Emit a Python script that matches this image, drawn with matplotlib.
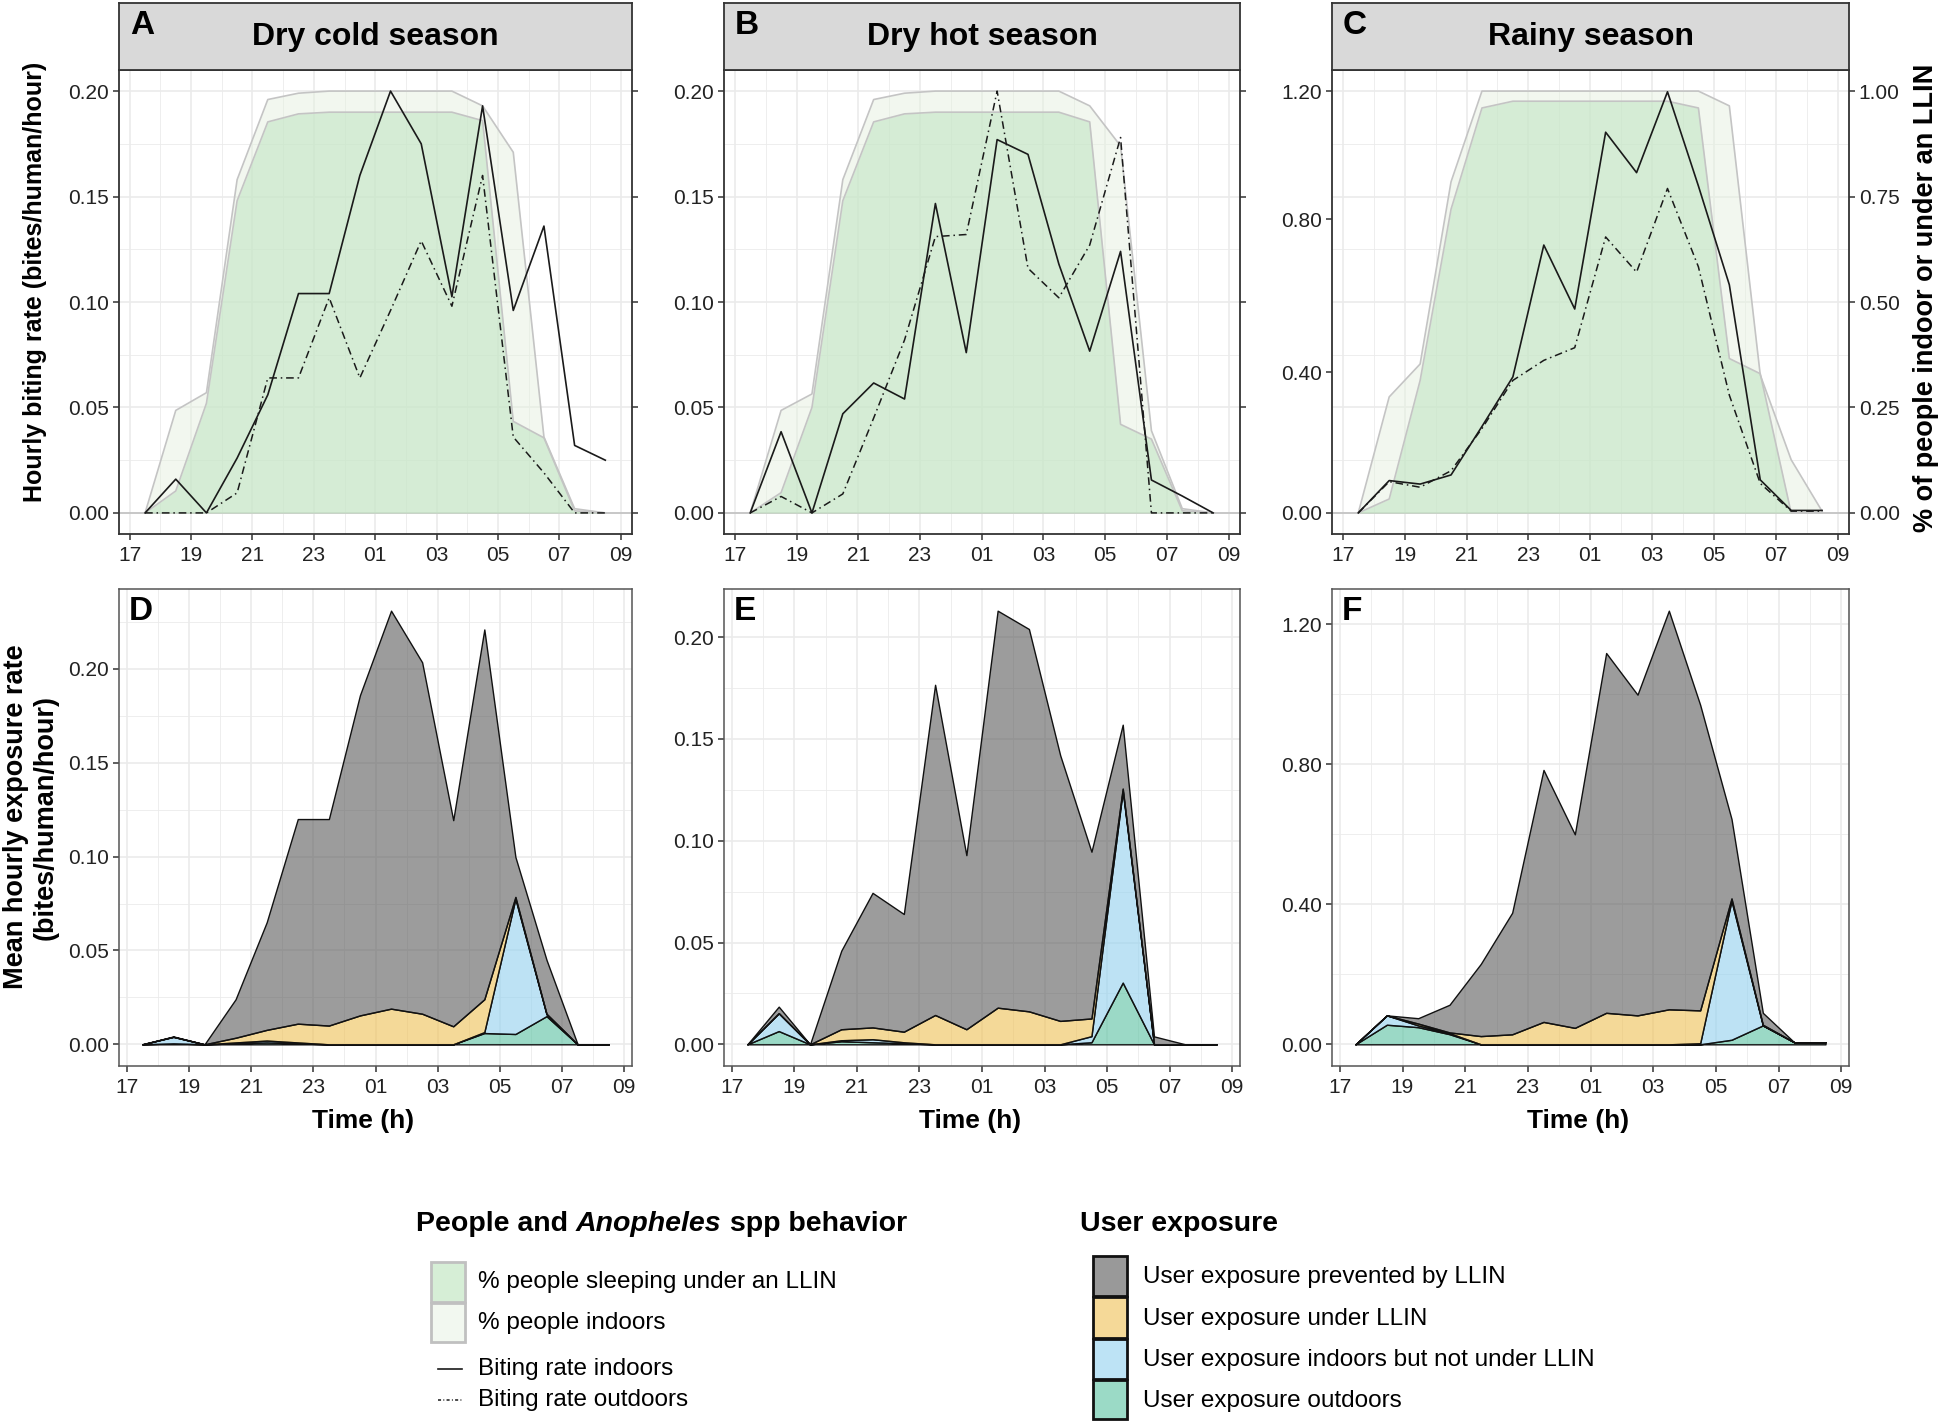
import matplotlib
matplotlib.use('Agg')
import matplotlib.pyplot as plt
from matplotlib.patches import Rectangle
from matplotlib.lines import Line2D
from matplotlib.ticker import FixedLocator

plt.rcParams['font.family'] = ['Liberation Sans', 'DejaVu Sans']

# half-hour midpoints 17:30 ... 08:30 (hours past midnight continue as 25, 26, ...)
hours = [17.5, 18.5, 19.5, 20.5, 21.5, 22.5, 23.5, 24.5, 25.5, 26.5, 27.5, 28.5, 29.5, 30.5, 31.5, 32.5]
tick_hours = [17, 19, 21, 23, 25, 27, 29, 31, 33]
tick_labels = ['17', '19', '21', '23', '01', '03', '05', '07', '09']
minor_hours = [18, 20, 22, 24, 26, 28, 30, 32]

seasons = ['Dry cold season', 'Dry hot season', 'Rainy season']
top_letters = ['A', 'B', 'C']
bottom_letters = ['D', 'E', 'F']

# hourly biting rate (bites/human/hour)
bite_in_cold = [0, 0.016, 0, 0.026, 0.056, 0.104, 0.104, 0.16, 0.2, 0.175, 0.1025, 0.193, 0.096, 0.136, 0.032, 0.025]
bite_out_cold = [0, 0, 0, 0.0095, 0.064, 0.064, 0.102, 0.064, 0.096, 0.129, 0.098, 0.16, 0.036, 0.019, 0, 0]
bite_in_hot = [0, 0.0385, 0, 0.047, 0.0616, 0.054, 0.1467, 0.076, 0.177, 0.170, 0.118, 0.0767, 0.124, 0.0156, 0.008, 0]
bite_out_hot = [0, 0.0078, 0, 0.009, 0.045, 0.082, 0.131, 0.132, 0.2, 0.116, 0.102, 0.127, 0.178, 0, 0, 0]
bite_in_rainy = [0, 0.092, 0.082, 0.108, 0.246, 0.387, 0.762, 0.58, 1.083, 0.968, 1.198, 0.93, 0.649, 0.094, 0.007, 0.007]
bite_out_rainy = [0, 0.089, 0.073, 0.12, 0.24, 0.377, 0.434, 0.47, 0.785, 0.685, 0.923, 0.70, 0.335, 0.084, 0.005, 0.005]

# share of people under an LLIN / indoors (0-1)
llin_cold = [0, 0.052, 0.26, 0.74, 0.927, 0.946, 0.95, 0.95, 0.95, 0.95, 0.95, 0.93, 0.217, 0.178, 0.005, 0]
indoor_cold = [0, 0.243, 0.285, 0.79, 0.98, 0.995, 1, 1, 1, 1, 1, 0.965, 0.855, 0.18, 0.01, 0]
llin_hot = [0, 0.048, 0.25, 0.74, 0.927, 0.946, 0.95, 0.95, 0.95, 0.95, 0.95, 0.927, 0.21, 0.175, 0.005, 0]
indoor_hot = [0, 0.243, 0.282, 0.79, 0.98, 0.995, 1, 1, 1, 1, 1, 0.965, 0.87, 0.195, 0.01, 0]
llin_rainy = [0, 0.033, 0.314, 0.72, 0.96, 0.976, 0.976, 0.976, 0.976, 0.976, 0.976, 0.96, 0.366, 0.33, 0, 0]
indoor_rainy = [0, 0.275, 0.353, 0.785, 1, 1, 1, 1, 1, 1, 1, 1, 0.965, 0.327, 0.126, 0.004]

# user exposure components (bites/human/hour)
exp_out_cold = [0, 0.0005, 0, 0.0005, 0.001, 0.0005, 0, 0, 0, 0, 0, 0.006, 0.0055, 0.015, 0, 0]
exp_in_cold = [0, 0.0035, 0, 0.0005, 0.001, 0.0005, 0, 0, 0, 0, 0, 0.0005, 0.072, 0.001, 0, 0]
exp_llin_cold = [0, 0, 0, 0.0025, 0.0057, 0.01, 0.01, 0.0154, 0.019, 0.0163, 0.0096, 0.0175, 0.001, 0.0003, 0, 0]
exp_prev_cold = [0, 0.0002, 0, 0.0205, 0.0573, 0.109, 0.11, 0.1706, 0.212, 0.1872, 0.1098, 0.197, 0.0213, 0.0287, 0, 0]

exp_out_hot = [0, 0.0065, 0, 0.0015, 0.001, 0.0005, 0, 0, 0, 0, 0, 0.001, 0.0303, 0, 0, 0]
exp_in_hot = [0, 0.0088, 0, 0.0005, 0.0015, 0.0005, 0, 0, 0, 0, 0, 0.003, 0.0943, 0, 0, 0]
exp_llin_hot = [0, 0, 0, 0.0054, 0.0058, 0.0052, 0.0144, 0.0074, 0.018, 0.0162, 0.0115, 0.0087, 0.001, 0, 0, 0]
exp_prev_hot = [0, 0.0032, 0, 0.0386, 0.0661, 0.0578, 0.1622, 0.0855, 0.195, 0.1878, 0.1305, 0.0819, 0.0314, 0.0039, 0, 0]

exp_out_rainy = [0, 0.056, 0.049, 0.029, 0, 0, 0, 0, 0, 0, 0, 0, 0.013, 0.054, 0.006, 0.006]
exp_in_rainy = [0, 0.0267, 0.005, 0.003, 0, 0, 0, 0, 0, 0, 0, 0.003, 0.397, 0, 0, 0]
exp_llin_rainy = [0, 0, 0.0053, 0.002, 0.0235, 0.0286, 0.064, 0.047, 0.09, 0.0827, 0.1, 0.094, 0.0067, 0.002, 0, 0]
exp_prev_rainy = [0, 0, 0.0153, 0.079, 0.2065, 0.3474, 0.72, 0.553, 1.028, 0.9163, 1.139, 0.873, 0.2273, 0.034, 0, 0]

bite_in = [bite_in_cold, bite_in_hot, bite_in_rainy]
bite_out = [bite_out_cold, bite_out_hot, bite_out_rainy]
llin = [llin_cold, llin_hot, llin_rainy]
indoor = [indoor_cold, indoor_hot, indoor_rainy]
exposure = [
    [exp_out_cold, exp_in_cold, exp_llin_cold, exp_prev_cold],
    [exp_out_hot, exp_in_hot, exp_llin_hot, exp_prev_hot],
    [exp_out_rainy, exp_in_rainy, exp_llin_rainy, exp_prev_rainy],
]

# axis settings per season
top_max = [0.2, 0.2, 1.2]          # left axis max = 100 % on the right axis
top_ticks = [[0, 0.05, 0.10, 0.15, 0.20], [0, 0.05, 0.10, 0.15, 0.20], [0, 0.40, 0.835, 1.20]]
top_ticklabels = [['0.00', '0.05', '0.10', '0.15', '0.20']] * 2 + [['0.00', '0.40', '0.80', '1.20']]
bot_ticks = [[0, 0.05, 0.10, 0.15, 0.20], [0, 0.05, 0.10, 0.15, 0.20], [0, 0.4, 0.8, 1.2]]
bot_ticklabels = [['0.00', '0.05', '0.10', '0.15', '0.20']] * 2 + [['0.00', '0.40', '0.80', '1.20']]
bot_minor = [[0.025, 0.075, 0.125, 0.175, 0.225], [0.025, 0.075, 0.125, 0.175], [0.2, 0.6, 1.0]]

c_llin = (0.73, 0.89, 0.74, 0.5)
c_indoor = (0.90, 0.945, 0.88, 0.5)
c_ribbon_edge = '#c4c4c4'
exp_colors = [(0.345, 0.757, 0.627, 0.6), (0.569, 0.816, 0.933, 0.6),
              (0.933, 0.753, 0.325, 0.6), (0.353, 0.353, 0.353, 0.6)]
exp_legend_colors = ['#999999', '#f5d998', '#bde3f5', '#9bdac6']
exp_labels = ['User exposure prevented by LLIN', 'User exposure under LLIN',
              'User exposure indoors but not under LLIN', 'User exposure outdoors']
grid_col = '#ebebeb'

W, H = 1946, 1421
fig = plt.figure(figsize=(W / 100, H / 100), dpi=100)

col_x = [(119, 632), (724, 1240), (1332, 1849)]
top_y = (70, 534)
strip_y = (3, 70)
bot_y = (589, 1066)


def rect(x0, x1, y0, y1):
    return [x0 / W, 1 - y1 / H, (x1 - x0) / W, (y1 - y0) / H]


def style_axis(ax, border='#333333', blw=1.3):
    for s in ax.spines.values():
        s.set_color(border)
        s.set_linewidth(blw)
    ax.tick_params(direction='out', length=4, width=1.1, color='#333333',
                   labelsize=15, labelcolor='#222222', pad=3)
    ax.tick_params(axis='x', pad=4.5)
    ax.tick_params(which='minor', length=0)
    ax.set_xticks(tick_hours)
    ax.set_xticklabels(tick_labels)
    ax.xaxis.set_minor_locator(FixedLocator(minor_hours))
    ax.grid(axis='x', which='major', color=grid_col, lw=1.2)
    ax.grid(axis='x', which='minor', color=grid_col, lw=0.6)
    ax.set_axisbelow(True)


for k in range(3):
    x0, x1 = col_x[k]
    # ---- top panel: behaviour and biting rates
    ax = fig.add_axes(rect(x0, x1, *top_y))
    m = top_max[k]
    ax.set_xlim(16.65, 33.37)
    ax.set_ylim(-0.05 * m, 1.05 * m)
    style_axis(ax)
    for j in range(9):
        share = j * 0.125
        ax.axhline(share * m, color=grid_col, lw=1.2 if j % 2 == 0 else 0.6, zorder=0.5)
    ax.axhline(0, color=c_ribbon_edge, lw=1.3, zorder=1)
    ind = [v * m for v in indoor[k]]
    ll = [v * m for v in llin[k]]
    ax.fill_between(hours, 0, ind, color=c_indoor, lw=0, zorder=1)
    ax.plot(hours, ind, color=c_ribbon_edge, lw=1.2, zorder=1.5)
    ax.fill_between(hours, 0, ll, color=c_llin, lw=0, zorder=2)
    ax.plot(hours, ll, color=c_ribbon_edge, lw=1.2, zorder=2.5)
    ax.plot(hours, bite_in[k], color='#1a1a1a', lw=1.2, zorder=3)
    ax.plot(hours, bite_out[k], color='#1a1a1a', lw=1.1, ls=(0, (5, 2.5, 1, 2.5)), zorder=3)
    ax.set_yticks(top_ticks[k])
    ax.set_yticklabels(top_ticklabels[k])

    ax2 = ax.twinx()
    ax2.set_ylim(-0.05, 1.05)
    ax2.set_yticks([0, 0.25, 0.5, 0.75, 1.0])
    ax2.set_yticklabels(['0.00', '0.25', '0.50', '0.75', '1.00'])
    for s in ax2.spines.values():
        s.set_visible(False)
    ax2.tick_params(direction='out', length=4, width=1.1, color='#333333',
                    labelsize=15, labelcolor='#222222', pad=3, labelright=(k == 2))

    # strip
    sax = fig.add_axes(rect(x0, x1, *strip_y))
    sax.set_facecolor('#d9d9d9')
    sax.set_xticks([])
    sax.set_yticks([])
    for s in sax.spines.values():
        s.set_color('#333333')
        s.set_linewidth(1.3)

    # ---- bottom panel: stacked exposure
    bx = fig.add_axes(rect(x0, x1, *bot_y))
    total = [sum(v) for v in zip(*exposure[k])]
    bm = max(total)
    bx.set_xlim(16.75, 33.25)
    bx.set_ylim(-0.05 * bm, 1.05 * bm)
    style_axis(bx, border='#555555', blw=1.1)
    bx.set_yticks(bot_ticks[k])
    bx.set_yticklabels(bot_ticklabels[k])
    bx.yaxis.set_minor_locator(FixedLocator(bot_minor[k]))
    bx.grid(axis='y', which='major', color=grid_col, lw=1.2)
    bx.grid(axis='y', which='minor', color=grid_col, lw=0.6)
    bx.stackplot(hours, *exposure[k], colors=exp_colors, edgecolor='#111111', linewidth=1.0, zorder=2)

# ---- overlay for labels and legends, in pixel coordinates
lax = fig.add_axes([0, 0, 1, 1])
lax.set_xlim(0, W)
lax.set_ylim(H, 0)
lax.axis('off')

for k in range(3):
    x0, x1 = col_x[k]
    lax.text((x0 + x1) / 2, 37, seasons[k], fontsize=23, fontweight='bold', ha='center', va='center')
    lax.text(x0 + 11, 25, top_letters[k], fontsize=24, fontweight='bold', ha='left', va='center')
    lax.text(x0 + 10, 612, bottom_letters[k], fontsize=24, fontweight='bold', ha='left', va='center')
    lax.text((x0 + x1) / 2 - 12, 1121, 'Time (h)', fontsize=19, fontweight='bold', ha='center', va='center')

lax.text(35, 282, 'Hourly biting rate (bites/human/hour)', fontsize=18, fontweight='bold',
         rotation=90, ha='center', va='center')
lax.text(31, 817, 'Mean hourly exposure rate\n(bites/human/hour)', fontsize=19.5, fontweight='bold',
         rotation=90, ha='center', va='center', multialignment='center', linespacing=1.2)
lax.text(1926, 298, '% of people indoor or under an LLIN', fontsize=19.5, fontweight='bold',
         rotation=90, ha='center', va='center')

# left legend
fig.canvas.draw()
renderer = fig.canvas.get_renderer()
xpos = 416
for piece, style in [('People and ', 'normal'), ('Anopheles', 'italic'), (' spp behavior', 'normal')]:
    t = lax.text(xpos, 1224, piece, fontsize=20.5, fontweight='bold', fontstyle=style, ha='left', va='center')
    xpos += t.get_window_extent(renderer).width

lax.add_patch(Rectangle((431, 1262), 34, 40, facecolor='#d6eed6', edgecolor='#c0c0c0', lw=2))
lax.add_patch(Rectangle((431, 1303), 34, 39, facecolor='#f2f8f0', edgecolor='#c0c0c0', lw=2))
lax.text(478, 1282, '% people sleeping under an LLIN', fontsize=17.5, ha='left', va='center')
lax.text(478, 1323, '% people indoors', fontsize=17.5, ha='left', va='center')
lax.add_line(Line2D([438, 462], [1369, 1369], color='#1a1a1a', lw=1.2))
lax.add_line(Line2D([438, 462], [1400, 1400], color='#1a1a1a', lw=1.1, ls=(0, (2, 1.5, 0.6, 1.5))))
lax.text(478, 1369, 'Biting rate indoors', fontsize=17.5, ha='left', va='center')
lax.text(478, 1400, 'Biting rate outdoors', fontsize=17.5, ha='left', va='center')

# right legend
lax.text(1080, 1224, 'User exposure', fontsize=20.5, fontweight='bold', ha='left', va='center')
box_top = [1256, 1297, 1339, 1380]
box_bot = [1296, 1338, 1379, 1419]
for i in range(4):
    lax.add_patch(Rectangle((1093, box_top[i]), 34, box_bot[i] - box_top[i],
                            facecolor=exp_legend_colors[i], edgecolor='#111111', lw=2))
    lax.text(1143, (box_top[i] + box_bot[i]) / 2 + 1, exp_labels[i], fontsize=17.5, ha='left', va='center')

fig.savefig('out.png', dpi=100)
